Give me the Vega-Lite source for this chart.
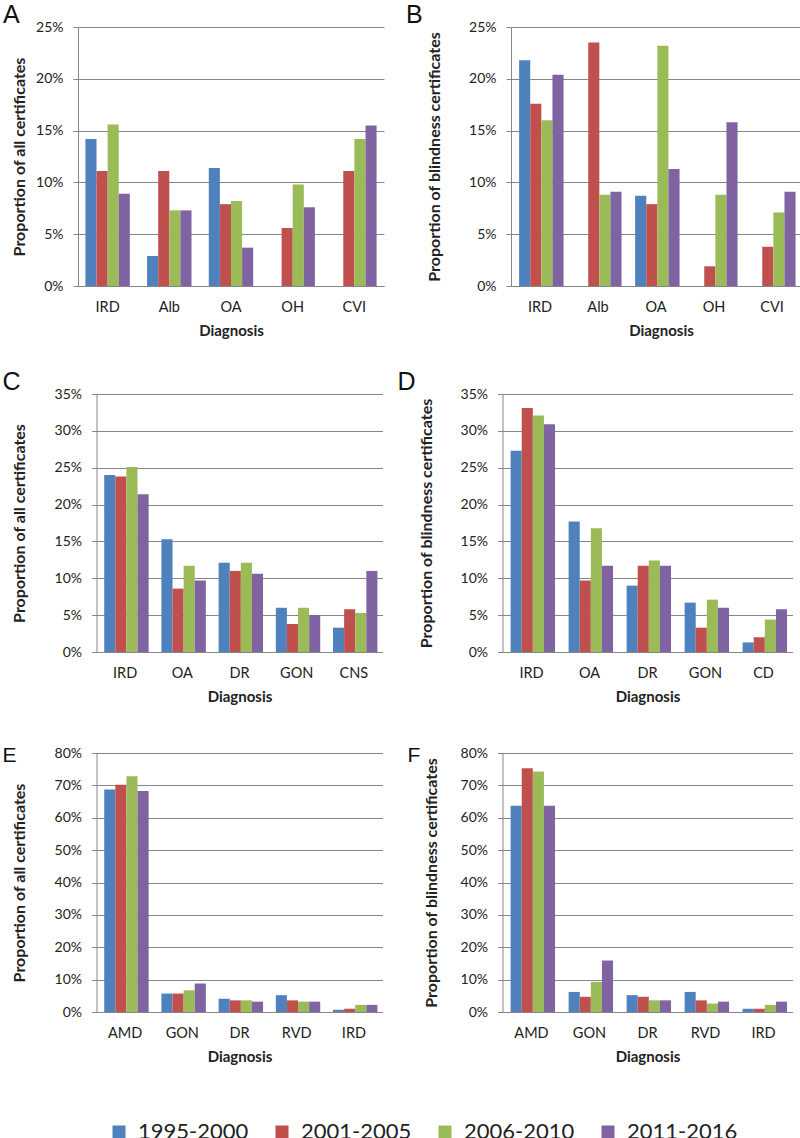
{
  "$schema": "https://vega.github.io/schema/vega-lite/v6.json",
  "padding": {"left": 2, "top": 3, "right": 0, "bottom": 0},
  "background": "white",
  "datasets": {
    "all": [
      {"panel": "A", "diagnosis": "IRD", "period": "1995-2000", "value": 0.142},
      {"panel": "A", "diagnosis": "IRD", "period": "2001-2005", "value": 0.111},
      {"panel": "A", "diagnosis": "IRD", "period": "2006-2010", "value": 0.156},
      {"panel": "A", "diagnosis": "IRD", "period": "2011-2016", "value": 0.089},
      {"panel": "A", "diagnosis": "Alb", "period": "1995-2000", "value": 0.029},
      {"panel": "A", "diagnosis": "Alb", "period": "2001-2005", "value": 0.111},
      {"panel": "A", "diagnosis": "Alb", "period": "2006-2010", "value": 0.073},
      {"panel": "A", "diagnosis": "Alb", "period": "2011-2016", "value": 0.073},
      {"panel": "A", "diagnosis": "OA", "period": "1995-2000", "value": 0.114},
      {"panel": "A", "diagnosis": "OA", "period": "2001-2005", "value": 0.079},
      {"panel": "A", "diagnosis": "OA", "period": "2006-2010", "value": 0.082},
      {"panel": "A", "diagnosis": "OA", "period": "2011-2016", "value": 0.037},
      {"panel": "A", "diagnosis": "OH", "period": "2001-2005", "value": 0.056},
      {"panel": "A", "diagnosis": "OH", "period": "2006-2010", "value": 0.098},
      {"panel": "A", "diagnosis": "OH", "period": "2011-2016", "value": 0.076},
      {"panel": "A", "diagnosis": "CVI", "period": "2001-2005", "value": 0.111},
      {"panel": "A", "diagnosis": "CVI", "period": "2006-2010", "value": 0.142},
      {"panel": "A", "diagnosis": "CVI", "period": "2011-2016", "value": 0.155},

      {"panel": "B", "diagnosis": "IRD", "period": "1995-2000", "value": 0.218},
      {"panel": "B", "diagnosis": "IRD", "period": "2001-2005", "value": 0.176},
      {"panel": "B", "diagnosis": "IRD", "period": "2006-2010", "value": 0.160},
      {"panel": "B", "diagnosis": "IRD", "period": "2011-2016", "value": 0.204},
      {"panel": "B", "diagnosis": "Alb", "period": "2001-2005", "value": 0.235},
      {"panel": "B", "diagnosis": "Alb", "period": "2006-2010", "value": 0.088},
      {"panel": "B", "diagnosis": "Alb", "period": "2011-2016", "value": 0.091},
      {"panel": "B", "diagnosis": "OA", "period": "1995-2000", "value": 0.087},
      {"panel": "B", "diagnosis": "OA", "period": "2001-2005", "value": 0.079},
      {"panel": "B", "diagnosis": "OA", "period": "2006-2010", "value": 0.232},
      {"panel": "B", "diagnosis": "OA", "period": "2011-2016", "value": 0.113},
      {"panel": "B", "diagnosis": "OH", "period": "2001-2005", "value": 0.019},
      {"panel": "B", "diagnosis": "OH", "period": "2006-2010", "value": 0.088},
      {"panel": "B", "diagnosis": "OH", "period": "2011-2016", "value": 0.158},
      {"panel": "B", "diagnosis": "CVI", "period": "2001-2005", "value": 0.038},
      {"panel": "B", "diagnosis": "CVI", "period": "2006-2010", "value": 0.071},
      {"panel": "B", "diagnosis": "CVI", "period": "2011-2016", "value": 0.091},

      {"panel": "C", "diagnosis": "IRD", "period": "1995-2000", "value": 0.240},
      {"panel": "C", "diagnosis": "IRD", "period": "2001-2005", "value": 0.238},
      {"panel": "C", "diagnosis": "IRD", "period": "2006-2010", "value": 0.251},
      {"panel": "C", "diagnosis": "IRD", "period": "2011-2016", "value": 0.214},
      {"panel": "C", "diagnosis": "OA", "period": "1995-2000", "value": 0.153},
      {"panel": "C", "diagnosis": "OA", "period": "2001-2005", "value": 0.086},
      {"panel": "C", "diagnosis": "OA", "period": "2006-2010", "value": 0.117},
      {"panel": "C", "diagnosis": "OA", "period": "2011-2016", "value": 0.097},
      {"panel": "C", "diagnosis": "DR", "period": "1995-2000", "value": 0.121},
      {"panel": "C", "diagnosis": "DR", "period": "2001-2005", "value": 0.110},
      {"panel": "C", "diagnosis": "DR", "period": "2006-2010", "value": 0.121},
      {"panel": "C", "diagnosis": "DR", "period": "2011-2016", "value": 0.106},
      {"panel": "C", "diagnosis": "GON", "period": "1995-2000", "value": 0.060},
      {"panel": "C", "diagnosis": "GON", "period": "2001-2005", "value": 0.038},
      {"panel": "C", "diagnosis": "GON", "period": "2006-2010", "value": 0.060},
      {"panel": "C", "diagnosis": "GON", "period": "2011-2016", "value": 0.050},
      {"panel": "C", "diagnosis": "CNS", "period": "1995-2000", "value": 0.033},
      {"panel": "C", "diagnosis": "CNS", "period": "2001-2005", "value": 0.058},
      {"panel": "C", "diagnosis": "CNS", "period": "2006-2010", "value": 0.053},
      {"panel": "C", "diagnosis": "CNS", "period": "2011-2016", "value": 0.110},

      {"panel": "D", "diagnosis": "IRD", "period": "1995-2000", "value": 0.273},
      {"panel": "D", "diagnosis": "IRD", "period": "2001-2005", "value": 0.331},
      {"panel": "D", "diagnosis": "IRD", "period": "2006-2010", "value": 0.321},
      {"panel": "D", "diagnosis": "IRD", "period": "2011-2016", "value": 0.309},
      {"panel": "D", "diagnosis": "OA", "period": "1995-2000", "value": 0.177},
      {"panel": "D", "diagnosis": "OA", "period": "2001-2005", "value": 0.097},
      {"panel": "D", "diagnosis": "OA", "period": "2006-2010", "value": 0.168},
      {"panel": "D", "diagnosis": "OA", "period": "2011-2016", "value": 0.117},
      {"panel": "D", "diagnosis": "DR", "period": "1995-2000", "value": 0.090},
      {"panel": "D", "diagnosis": "DR", "period": "2001-2005", "value": 0.117},
      {"panel": "D", "diagnosis": "DR", "period": "2006-2010", "value": 0.124},
      {"panel": "D", "diagnosis": "DR", "period": "2011-2016", "value": 0.117},
      {"panel": "D", "diagnosis": "GON", "period": "1995-2000", "value": 0.067},
      {"panel": "D", "diagnosis": "GON", "period": "2001-2005", "value": 0.033},
      {"panel": "D", "diagnosis": "GON", "period": "2006-2010", "value": 0.071},
      {"panel": "D", "diagnosis": "GON", "period": "2011-2016", "value": 0.060},
      {"panel": "D", "diagnosis": "CD", "period": "1995-2000", "value": 0.013},
      {"panel": "D", "diagnosis": "CD", "period": "2001-2005", "value": 0.020},
      {"panel": "D", "diagnosis": "CD", "period": "2006-2010", "value": 0.044},
      {"panel": "D", "diagnosis": "CD", "period": "2011-2016", "value": 0.058},

      {"panel": "E", "diagnosis": "AMD", "period": "1995-2000", "value": 0.687},
      {"panel": "E", "diagnosis": "AMD", "period": "2001-2005", "value": 0.702},
      {"panel": "E", "diagnosis": "AMD", "period": "2006-2010", "value": 0.728},
      {"panel": "E", "diagnosis": "AMD", "period": "2011-2016", "value": 0.683},
      {"panel": "E", "diagnosis": "GON", "period": "1995-2000", "value": 0.057},
      {"panel": "E", "diagnosis": "GON", "period": "2001-2005", "value": 0.057},
      {"panel": "E", "diagnosis": "GON", "period": "2006-2010", "value": 0.067},
      {"panel": "E", "diagnosis": "GON", "period": "2011-2016", "value": 0.088},
      {"panel": "E", "diagnosis": "DR", "period": "1995-2000", "value": 0.041},
      {"panel": "E", "diagnosis": "DR", "period": "2001-2005", "value": 0.036},
      {"panel": "E", "diagnosis": "DR", "period": "2006-2010", "value": 0.036},
      {"panel": "E", "diagnosis": "DR", "period": "2011-2016", "value": 0.032},
      {"panel": "E", "diagnosis": "RVD", "period": "1995-2000", "value": 0.052},
      {"panel": "E", "diagnosis": "RVD", "period": "2001-2005", "value": 0.036},
      {"panel": "E", "diagnosis": "RVD", "period": "2006-2010", "value": 0.032},
      {"panel": "E", "diagnosis": "RVD", "period": "2011-2016", "value": 0.032},
      {"panel": "E", "diagnosis": "IRD", "period": "1995-2000", "value": 0.007},
      {"panel": "E", "diagnosis": "IRD", "period": "2001-2005", "value": 0.010},
      {"panel": "E", "diagnosis": "IRD", "period": "2006-2010", "value": 0.022},
      {"panel": "E", "diagnosis": "IRD", "period": "2011-2016", "value": 0.022},

      {"panel": "F", "diagnosis": "AMD", "period": "1995-2000", "value": 0.637},
      {"panel": "F", "diagnosis": "AMD", "period": "2001-2005", "value": 0.753},
      {"panel": "F", "diagnosis": "AMD", "period": "2006-2010", "value": 0.743},
      {"panel": "F", "diagnosis": "AMD", "period": "2011-2016", "value": 0.637},
      {"panel": "F", "diagnosis": "GON", "period": "1995-2000", "value": 0.062},
      {"panel": "F", "diagnosis": "GON", "period": "2001-2005", "value": 0.047},
      {"panel": "F", "diagnosis": "GON", "period": "2006-2010", "value": 0.093},
      {"panel": "F", "diagnosis": "GON", "period": "2011-2016", "value": 0.159},
      {"panel": "F", "diagnosis": "DR", "period": "1995-2000", "value": 0.052},
      {"panel": "F", "diagnosis": "DR", "period": "2001-2005", "value": 0.047},
      {"panel": "F", "diagnosis": "DR", "period": "2006-2010", "value": 0.036},
      {"panel": "F", "diagnosis": "DR", "period": "2011-2016", "value": 0.036},
      {"panel": "F", "diagnosis": "RVD", "period": "1995-2000", "value": 0.062},
      {"panel": "F", "diagnosis": "RVD", "period": "2001-2005", "value": 0.036},
      {"panel": "F", "diagnosis": "RVD", "period": "2006-2010", "value": 0.026},
      {"panel": "F", "diagnosis": "RVD", "period": "2011-2016", "value": 0.032},
      {"panel": "F", "diagnosis": "IRD", "period": "1995-2000", "value": 0.010},
      {"panel": "F", "diagnosis": "IRD", "period": "2001-2005", "value": 0.010},
      {"panel": "F", "diagnosis": "IRD", "period": "2006-2010", "value": 0.022},
      {"panel": "F", "diagnosis": "IRD", "period": "2011-2016", "value": 0.032}
    ]
  },
  "data": {"name": "all"},
  "center": true,
  "spacing": 31,
  "vconcat": [
    {
      "spacing": 22,
      "hconcat": [
        {
          "title": {"text": "A", "dx": -75},
          "width": 306, "height": 259,
          "transform": [{"filter": "datum.panel === 'A'"}],
          "mark": "bar",
          "encoding": {
            "x": {"field": "diagnosis", "type": "nominal", "sort": ["IRD", "Alb", "OA", "OH", "CVI"], "title": "Diagnosis", "scale": {"paddingInner": 0.28, "paddingOuter": 0.12}},
            "xOffset": {"field": "period", "type": "nominal", "scale": {"domain": ["1995-2000", "2001-2005", "2006-2010", "2011-2016"]}},
            "y": {"field": "value", "type": "quantitative", "scale": {"domain": [0, 0.25]}, "axis": {"values": [0, 0.05, 0.1, 0.15, 0.2, 0.25], "title": "Proportion of all certificates", "titlePadding": 8}},
            "color": {"field": "period", "type": "nominal", "scale": {"domain": ["1995-2000", "2001-2005", "2006-2010", "2011-2016"], "range": ["#4F81BD", "#C0504D", "#9BBB59", "#8064A2"]}, "legend": {"title": null, "orient": "none", "direction": "horizontal", "legendX": 30, "legendY": 1094, "padding": 0, "symbolType": "square", "symbolSize": 169, "symbolStrokeWidth": 0, "labelFontSize": 22, "labelFont": "Lato", "labelColor": "#222", "columnPadding": 22, "labelOffset": 8}}
          }
        },
        {
          "title": {"text": "B", "dx": -105},
          "width": 300, "height": 259,
          "transform": [{"filter": "datum.panel === 'B'"}],
          "mark": "bar",
          "encoding": {
            "x": {"field": "diagnosis", "type": "nominal", "sort": ["IRD", "Alb", "OA", "OH", "CVI"], "title": "Diagnosis", "scale": {"paddingInner": 0.28, "paddingOuter": 0.226, "align": 0.31}},
            "xOffset": {"field": "period", "type": "nominal", "scale": {"domain": ["1995-2000", "2001-2005", "2006-2010", "2011-2016"]}},
            "y": {"field": "value", "type": "quantitative", "scale": {"domain": [0, 0.25]}, "axis": {"values": [0, 0.05, 0.1, 0.15, 0.2, 0.25], "title": "Proportion of blindness certificates", "titlePadding": 26}},
            "color": {"field": "period", "type": "nominal", "scale": {"domain": ["1995-2000", "2001-2005", "2006-2010", "2011-2016"], "range": ["#4F81BD", "#C0504D", "#9BBB59", "#8064A2"]}, "legend": {"title": null, "orient": "none", "direction": "horizontal", "legendX": 30, "legendY": 1094, "padding": 0, "symbolType": "square", "symbolSize": 169, "symbolStrokeWidth": 0, "labelFontSize": 22, "labelFont": "Lato", "labelColor": "#222", "columnPadding": 22, "labelOffset": 8}}
          }
        }
      ]
    },
    {
      "spacing": 15,
      "hconcat": [
        {
          "title": {"text": "C", "dx": -94},
          "width": 286, "height": 258,
          "transform": [{"filter": "datum.panel === 'C'"}],
          "mark": "bar",
          "encoding": {
            "x": {"field": "diagnosis", "type": "nominal", "sort": ["IRD", "OA", "DR", "GON", "CNS"], "title": "Diagnosis", "scale": {"paddingInner": 0.27, "paddingOuter": 0.135}},
            "xOffset": {"field": "period", "type": "nominal", "scale": {"domain": ["1995-2000", "2001-2005", "2006-2010", "2011-2016"]}},
            "y": {"field": "value", "type": "quantitative", "scale": {"domain": [0, 0.35]}, "axis": {"values": [0, 0.05, 0.1, 0.15, 0.2, 0.25, 0.3, 0.35], "title": "Proportion of all certificates", "titlePadding": 27}},
            "color": {"field": "period", "type": "nominal", "scale": {"domain": ["1995-2000", "2001-2005", "2006-2010", "2011-2016"], "range": ["#4F81BD", "#C0504D", "#9BBB59", "#8064A2"]}, "legend": {"title": null, "orient": "none", "direction": "horizontal", "legendX": 30, "legendY": 1094, "padding": 0, "symbolType": "square", "symbolSize": 169, "symbolStrokeWidth": 0, "labelFontSize": 22, "labelFont": "Lato", "labelColor": "#222", "columnPadding": 22, "labelOffset": 8}}
          }
        },
        {
          "title": {"text": "D", "dx": -105},
          "width": 290, "height": 258,
          "transform": [{"filter": "datum.panel === 'D'"}],
          "mark": "bar",
          "encoding": {
            "x": {"field": "diagnosis", "type": "nominal", "sort": ["IRD", "OA", "DR", "GON", "CD"], "title": "Diagnosis", "scale": {"paddingInner": 0.28, "paddingOuter": 0.14}},
            "xOffset": {"field": "period", "type": "nominal", "scale": {"domain": ["1995-2000", "2001-2005", "2006-2010", "2011-2016"]}},
            "y": {"field": "value", "type": "quantitative", "scale": {"domain": [0, 0.35]}, "axis": {"values": [0, 0.05, 0.1, 0.15, 0.2, 0.25, 0.3, 0.35], "title": "Proportion of blindness certificates", "titlePadding": 26}},
            "color": {"field": "period", "type": "nominal", "scale": {"domain": ["1995-2000", "2001-2005", "2006-2010", "2011-2016"], "range": ["#4F81BD", "#C0504D", "#9BBB59", "#8064A2"]}, "legend": {"title": null, "orient": "none", "direction": "horizontal", "legendX": 30, "legendY": 1094, "padding": 0, "symbolType": "square", "symbolSize": 169, "symbolStrokeWidth": 0, "labelFontSize": 22, "labelFont": "Lato", "labelColor": "#222", "columnPadding": 22, "labelOffset": 8}}
          }
        }
      ]
    },
    {
      "spacing": 25,
      "hconcat": [
        {
          "title": {"text": ["", "E"], "dx": -94, "fontSize": 21, "offset": -20, "lineHeight": 9},
          "width": 286, "height": 259,
          "transform": [{"filter": "datum.panel === 'E'"}],
          "mark": "bar",
          "encoding": {
            "x": {"field": "diagnosis", "type": "nominal", "sort": ["AMD", "GON", "DR", "RVD", "IRD"], "title": "Diagnosis", "scale": {"paddingInner": 0.27, "paddingOuter": 0.135}},
            "xOffset": {"field": "period", "type": "nominal", "scale": {"domain": ["1995-2000", "2001-2005", "2006-2010", "2011-2016"]}},
            "y": {"field": "value", "type": "quantitative", "scale": {"domain": [0, 0.8]}, "axis": {"values": [0, 0.1, 0.2, 0.3, 0.4, 0.5, 0.6, 0.7, 0.8], "title": "Proportion of all certificates", "titlePadding": 27}},
            "color": {"field": "period", "type": "nominal", "scale": {"domain": ["1995-2000", "2001-2005", "2006-2010", "2011-2016"], "range": ["#4F81BD", "#C0504D", "#9BBB59", "#8064A2"]}, "legend": {"title": null, "orient": "none", "direction": "horizontal", "legendX": 30, "legendY": 1094, "padding": 0, "symbolType": "square", "symbolSize": 169, "symbolStrokeWidth": 0, "labelFontSize": 22, "labelFont": "Lato", "labelColor": "#222", "columnPadding": 22, "labelOffset": 8}}
          }
        },
        {
          "title": {"text": ["", "F"], "dx": -95, "fontSize": 21, "offset": -20, "lineHeight": 9},
          "width": 290, "height": 259,
          "transform": [{"filter": "datum.panel === 'F'"}],
          "mark": "bar",
          "encoding": {
            "x": {"field": "diagnosis", "type": "nominal", "sort": ["AMD", "GON", "DR", "RVD", "IRD"], "title": "Diagnosis", "scale": {"paddingInner": 0.28, "paddingOuter": 0.14}},
            "xOffset": {"field": "period", "type": "nominal", "scale": {"domain": ["1995-2000", "2001-2005", "2006-2010", "2011-2016"]}},
            "y": {"field": "value", "type": "quantitative", "scale": {"domain": [0, 0.8]}, "axis": {"values": [0, 0.1, 0.2, 0.3, 0.4, 0.5, 0.6, 0.7, 0.8], "title": "Proportion of blindness certificates", "titlePadding": 21}},
            "color": {"field": "period", "type": "nominal", "scale": {"domain": ["1995-2000", "2001-2005", "2006-2010", "2011-2016"], "range": ["#4F81BD", "#C0504D", "#9BBB59", "#8064A2"]}, "legend": {"title": null, "orient": "none", "direction": "horizontal", "legendX": 30, "legendY": 1094, "padding": 0, "symbolType": "square", "symbolSize": 169, "symbolStrokeWidth": 0, "labelFontSize": 22, "labelFont": "Lato", "labelColor": "#222", "columnPadding": 22, "labelOffset": 8}}
          }
        }
      ]
    }
  ],
  "config": {
    "font": "Lato",
    "view": {"stroke": null},
    "title": {"font": "Liberation Sans", "fontSize": 25, "fontWeight": "normal", "anchor": "start", "frame": "group", "color": "#111", "offset": -8},
    "axis": {"labelFont": "Lato", "titleFont": "Lato", "labelColor": "#222", "titleColor": "#222", "titleFontWeight": "bold", "domainColor": "#868686", "gridColor": "#868686", "tickColor": "#868686"},
    "axisX": {"labelAngle": 0, "labelFontSize": 14.5, "titleFontSize": 15, "ticks": false, "labelPadding": 14, "titlePadding": 10, "grid": false},
    "axisY": {"labelFontSize": 14, "titleFontSize": 16, "tickSize": 5, "labelPadding": 10, "format": ".0%", "grid": true}
  }
}
